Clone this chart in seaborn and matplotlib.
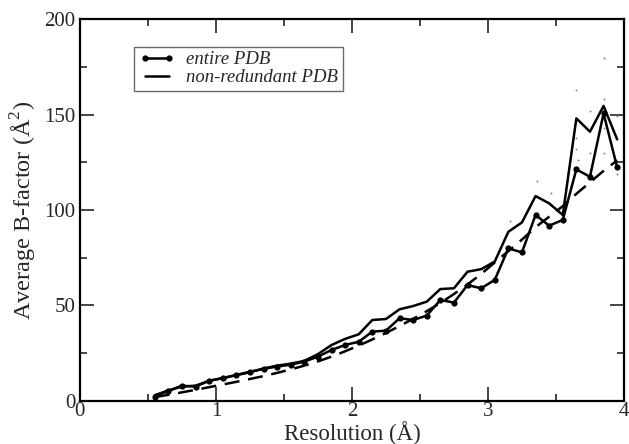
import numpy as np
import pandas as pd
import matplotlib
matplotlib.use("Agg")
import matplotlib.pyplot as plt
import seaborn as sns
from matplotlib.ticker import MultipleLocator
from matplotlib.lines import Line2D

# ---- data ----
resolution = [0.55, 0.65, 0.75, 0.85, 0.95, 1.05, 1.15, 1.25, 1.35, 1.45,
              1.55, 1.65, 1.75, 1.85, 1.95, 2.05, 2.15, 2.25, 2.35, 2.45,
              2.55, 2.65, 2.75, 2.85, 2.95, 3.05, 3.15, 3.25, 3.35, 3.45,
              3.55, 3.65, 3.75, 3.85, 3.95]
entire_pdb = [2.3, 5.2, 8.0, 7.5, 10.6, 11.9, 13.6, 15.3, 16.8, 18.0,
              19.0, 20.6, 23.2, 26.7, 29.3, 31.0, 36.3, 36.8, 43.3, 42.4,
              44.7, 52.9, 51.5, 60.7, 59.0, 63.4, 79.9, 77.8, 97.4, 91.8,
              94.8, 121.3, 117.4, 150.6, 122.3]
nonredundant_pdb = [3.0, 5.5, 7.5, 8.0, 10.5, 12.0, 13.5, 15.0, 17.0, 18.5,
                    19.5, 21.0, 24.5, 29.3, 32.5, 34.9, 42.4, 42.9, 48.0, 49.7,
                    52.0, 58.6, 59.0, 67.7, 69.0, 73.0, 88.6, 93.5, 107.3, 103.5,
                    97.4, 148.0, 141.0, 154.5, 137.0]
fit_curve = [2.0, 3.2, 4.5, 5.8, 7.2, 8.6, 10.0, 11.5, 13.0, 14.7,
             16.5, 18.5, 20.7, 23.2, 26.0, 29.0, 32.2, 35.6, 39.2, 43.0,
             47.0, 51.3, 56.0, 61.0, 66.5, 72.5, 78.5, 84.5, 91.0, 96.5,
             102.0, 108.5, 114.5, 120.5, 126.0]
dots_x = [3.16, 3.36, 3.46, 3.65, 3.65, 3.65, 3.66, 3.75, 3.75, 3.85,
          3.85, 3.85, 3.85, 3.95, 3.95]
dots_y = [94.0, 115.0, 108.7, 163.0, 137.5, 132.0, 126.0, 152.0, 129.7, 179.4,
          158.0, 142.7, 129.7, 149.0, 119.0]
legend_labels = ["entire PDB", "non-redundant PDB"]

df = pd.DataFrame({"res": resolution, "entire": entire_pdb,
                   "nr": nonredundant_pdb, "fit": fit_curve})
dots = pd.DataFrame({"x": dots_x, "y": dots_y})

sns.set_theme(style="ticks")
plt.rcParams["font.family"] = ["Liberation Serif", "DejaVu Serif"]
plt.rcParams["mathtext.fontset"] = "custom"
plt.rcParams["mathtext.rm"] = "Liberation Serif"

fig = plt.figure(figsize=(6.29, 4.44), dpi=100)
ax = fig.add_axes([0.127, 0.097, 0.865, 0.860])

sns.scatterplot(data=dots, x="x", y="y", ax=ax, color="#888888", s=2,
                linewidth=0, legend=False)
sns.lineplot(data=df, x="res", y="fit", ax=ax, color="black", lw=1.8,
             linestyle=(0, (6, 3.5)), legend=False)
sns.lineplot(data=df, x="res", y="entire", ax=ax, color="black", lw=1.8,
             marker="o", markersize=4.5, markeredgewidth=0, legend=False)
sns.lineplot(data=df, x="res", y="nr", ax=ax, color="black", lw=1.8,
             legend=False)

ax.set_xlim(0, 4)
ax.set_ylim(0, 200)
ax.xaxis.set_major_locator(MultipleLocator(1))
ax.xaxis.set_minor_locator(MultipleLocator(0.5))
ax.yaxis.set_major_locator(MultipleLocator(50))
ax.yaxis.set_minor_locator(MultipleLocator(25))
ax.tick_params(which="both", direction="in", top=True, right=True,
               labelsize=15, width=1.2)
ax.tick_params(axis="x", pad=1)
ax.tick_params(axis="y", pad=3)
ax.tick_params(which="major", length=10)
ax.tick_params(which="minor", length=5)
for s in ax.spines.values():
    s.set_linewidth(1.6)
    s.set_color("black")

ax.set_xlabel("Resolution (Å)", fontsize=16.5, labelpad=0)
ax.set_ylabel("Average B-factor (Å$^2$)", fontsize=17.5, labelpad=4)

handles = [Line2D([0], [0], color="black", lw=1.8, marker="o",
                  markersize=4.5, markeredgewidth=0),
           Line2D([0], [0], color="black", lw=1.8)]
leg = ax.legend(handles, legend_labels, loc="upper left",
                bbox_to_anchor=(0.10, 0.928), borderaxespad=0,
                prop={"style": "italic", "size": 13.5}, frameon=True,
                fancybox=False, edgecolor="#444444", borderpad=0.25,
                handlelength=1.9, labelspacing=0.05, handletextpad=0.6,
                numpoints=2)
leg.get_frame().set_linewidth(1.0)

fig.savefig("out.png", dpi=100)
